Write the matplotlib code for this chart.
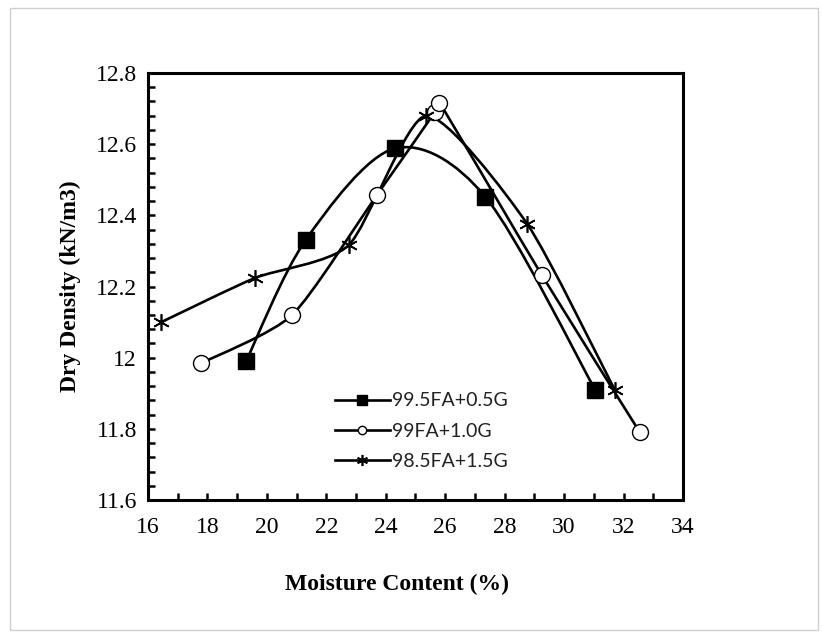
import numpy as np
import matplotlib
matplotlib.use("Agg")
from matplotlib import pyplot as plt
from matplotlib.path import Path
from matplotlib.patches import PathPatch, Rectangle
from matplotlib.lines import Line2D
from matplotlib.ticker import MultipleLocator

# data
moisture_05 = [19.3, 21.3, 24.3, 27.35, 31.05]
density_05 = [11.99, 12.33, 12.588, 12.452, 11.909]

moisture_10 = [17.8, 20.85, 23.7, 25.65, 25.8, 29.25, 32.55]
density_10 = [11.985, 12.12, 12.457, 12.69, 12.717, 12.232, 11.79]

moisture_15 = [16.45, 19.6, 22.75, 25.35, 28.75, 31.7]
density_15 = [12.10, 12.224, 12.316, 12.68, 12.377, 11.91]

labels = ["99.5FA+0.5G", "99FA+1.0G", "98.5FA+1.5G"]

# rough px per unit, used only to keep the smoothing arms sane
SX, SY = 535 / 18.0, 427 / 1.2


def smooth_path(xs, ys, k=1 / 9.0):
    # excel style smoothed line (catmull-rom as bezier segments)
    pts = np.column_stack([np.array(xs) * SX, np.array(ys) * SY])
    n = len(pts)
    verts = [pts[0]]
    codes = [Path.MOVETO]
    for i in range(n - 1):
        p0 = pts[i - 1] if i > 0 else pts[i]
        p1 = pts[i]
        p2 = pts[i + 1]
        p3 = pts[i + 2] if i + 2 < n else pts[i + 1]
        chord = np.hypot(*(p2 - p1))
        a = (p2 - p0) * k
        b = (p3 - p1) * k
        if np.hypot(*a) > 0.45 * chord:
            a = a / np.hypot(*a) * 0.45 * chord
        if np.hypot(*b) > 0.45 * chord:
            b = b / np.hypot(*b) * 0.45 * chord
        verts += [p1 + a, p2 - b, p2]
        codes += [Path.CURVE4] * 3
    verts = np.array(verts) / [SX, SY]
    return Path(verts, codes)


fig = plt.figure(figsize=(8.23, 6.36), dpi=100)
fig.patches.append(Rectangle((0.012, 0.009), 0.982, 0.978, transform=fig.transFigure,
                             fill=False, edgecolor="#cfcfcf", linewidth=1.0))
ax = fig.add_axes([0.1798, 0.2138, 0.6501, 0.6714])

lw = 1.9
ax.add_patch(PathPatch(smooth_path(moisture_05, density_05, k=1 / 6.5), fill=False,
                       edgecolor="black", lw=lw, zorder=2))
ax.add_patch(PathPatch(smooth_path(moisture_10, density_10), fill=False, edgecolor="black", lw=lw, zorder=2))
ax.add_patch(PathPatch(smooth_path(moisture_15, density_15), fill=False, edgecolor="black", lw=lw, zorder=2))

ax.plot(moisture_05, density_05, marker="s", markersize=12, color="black", linestyle="none", zorder=3)
ax.plot(moisture_10, density_10, marker="o", markersize=11.5, markerfacecolor="white",
        markeredgecolor="black", markeredgewidth=1.0, linestyle="none", zorder=3)
ax.plot(moisture_15, density_15, marker=(6, 2, 0), markersize=12, color="black",
        markeredgewidth=1.2, linestyle="none", zorder=3)

ax.set_xlim(16, 34)
ax.set_ylim(11.6, 12.8)
ax.xaxis.set_major_locator(MultipleLocator(2))
ax.xaxis.set_minor_locator(MultipleLocator(1))
ax.yaxis.set_minor_locator(MultipleLocator(0.04))
ax.set_yticks([11.6, 11.8, 12.0, 12.2, 12.4, 12.6, 12.8])
ax.set_yticklabels(["11.6", "11.8", "12", "12.2", "12.4", "12.6", "12.8"])

for s in ax.spines.values():
    s.set_linewidth(2.2)
ax.tick_params(which="both", direction="in", width=1.8, length=5, top=False, right=False)
ax.tick_params(axis="x", which="major", pad=12)
ax.tick_params(axis="y", which="major", pad=8)
for t in ax.get_xticklabels() + ax.get_yticklabels():
    t.set_fontfamily("Liberation Serif")
    t.set_fontsize(17)

ax.set_xlabel("Moisture Content (%)", fontfamily="Liberation Serif", fontweight="bold", fontsize=17)
ax.set_ylabel("Dry Density (kN/m3)", fontfamily="Liberation Serif", fontweight="bold", fontsize=17)
ax.xaxis.set_label_coords(0.466, -0.172)
ax.yaxis.set_label_coords(-0.125, 0.5)

handles = [Line2D([], [], color="black", lw=lw, marker="s", markersize=6.5),
           Line2D([], [], color="black", lw=lw, marker="o", markersize=6,
                  markerfacecolor="white", markeredgewidth=1.0),
           Line2D([], [], color="black", lw=lw, marker=(6, 2, 0), markersize=8, markeredgewidth=1.2)]
leg = ax.legend(handles, labels, loc="upper left", bbox_to_anchor=(0.35, 0.252),
                frameon=False, borderpad=0, borderaxespad=0, handlelength=2.8, handletextpad=0.1,
                labelspacing=0.68, prop={"family": "Lato", "size": 14})
for t in leg.get_texts():
    t.set_color("#222222")

plt.savefig("out.png", dpi=100)
